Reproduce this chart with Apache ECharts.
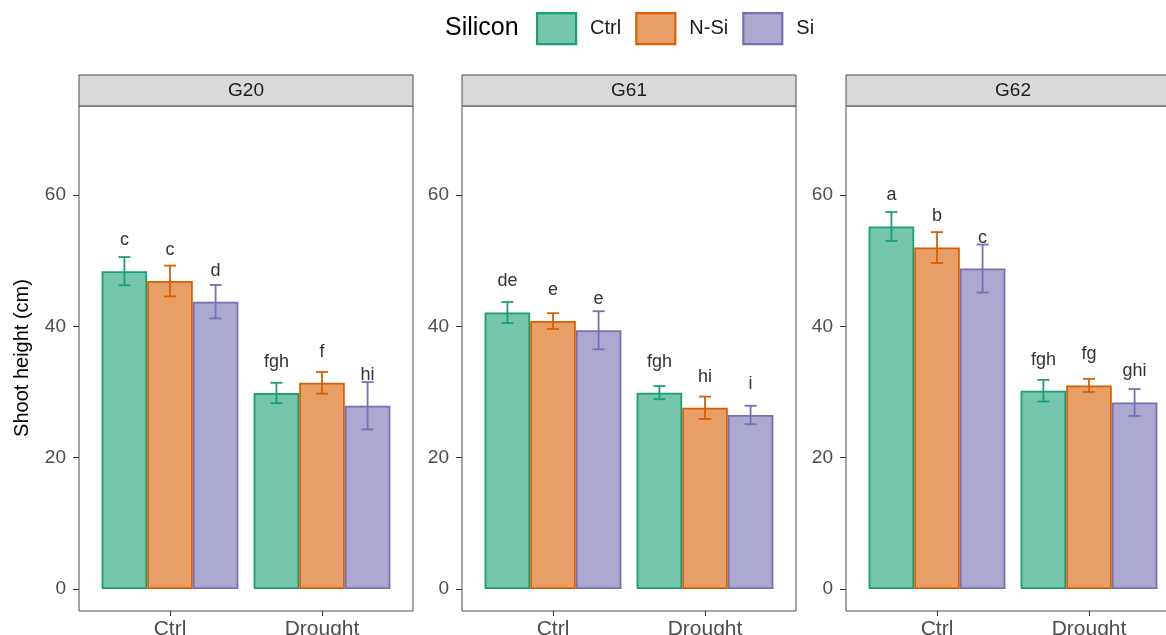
<!DOCTYPE html>
<html>
<head>
<meta charset="utf-8">
<script src="https://cdn.jsdelivr.net/npm/echarts@6/dist/echarts.min.js"></script>
<style>html,body{margin:0;padding:0;background:#fff}#c{width:1166px;height:635px}</style>
</head>
<body>
<div id="c"></div>
<script>
// ---- data ----
const genotypes = ['G20', 'G61', 'G62'];
const conditions = ['Ctrl', 'Drought'];
const silicon = ['Ctrl', 'N-Si', 'Si'];
const yTicks = [0, 20, 40, 60];

// means per genotype: [Ctrl condition, Drought condition]
const meanCtrl = [[48.4, 29.85], [42.1, 29.9], [55.2, 30.2]];
const meanNSi  = [[46.9, 31.4], [40.8, 27.6], [52.0, 31.0]];
const meanSi   = [[43.75, 27.9], [39.4, 26.5], [48.8, 28.4]];
// error (± sd) per genotype
const sdCtrl = [[2.15, 1.55], [1.6, 1.0], [2.2, 1.65]];
const sdNSi  = [[2.35, 1.65], [1.2, 1.7], [2.35, 1.0]];
const sdSi   = [[2.55, 3.6], [2.9, 1.4], [3.65, 2.05]];
// significance letters
const letCtrl = [['c', 'fgh'], ['de', 'fgh'], ['a', 'fgh']];
const letNSi  = [['c', 'f'], ['e', 'hi'], ['b', 'fg']];
const letSi   = [['d', 'hi'], ['e', 'i'], ['c', 'ghi']];

const means = [meanCtrl, meanNSi, meanSi];
const sds = [sdCtrl, sdNSi, sdSi];
const lets = [letCtrl, letNSi, letSi];

// ---- styles ----
const fills = ['#76C5AD', '#E89F67', '#ACA9D1'];
const strokes = ['#1B9E77', '#D95F02', '#7570B3'];
const FONT = "'Liberation Sans', Arial, sans-serif";
const yMin = -3.35, yMax = 73.55;

const panelLeft = [79, 462, 846];
const panelW = 334;
const panelTop = 106, panelBottom = 611;
const stripTop = 75;

const grid = [], xAxis = [], yAxis = [], series = [], graphic = [];

genotypes.forEach(function (g, p) {
  const L = panelLeft[p];
  // frame grid
  grid.push({left: L, top: panelTop, width: panelW, height: panelBottom - panelTop,
    show: true, borderColor: '#4d4d4d', borderWidth: 1, backgroundColor: 'transparent',
    outerBoundsMode: 'none'});
  // data grid
  grid.push({left: L + 15, top: panelTop, width: 304, height: panelBottom - panelTop,
    outerBoundsMode: 'none'});
  const fg = 2 * p, dg = 2 * p + 1;
  xAxis.push({gridIndex: fg, type: 'value', show: false, min: 0, max: 1});
  yAxis.push({gridIndex: fg, type: 'value', min: yMin, max: yMax,
    axisLine: {show: false}, splitLine: {show: false},
    axisTick: {show: true, length: 6, customValues: yTicks, lineStyle: {color: '#333', width: 1}},
    axisLabel: {show: true, customValues: yTicks, margin: 13, color: '#4d4d4d', fontSize: 19, fontFamily: FONT}});
  xAxis.push({gridIndex: dg, type: 'category', data: conditions,
    axisLine: {show: false, onZero: false}, splitLine: {show: false},
    axisTick: {show: true, alignWithLabel: true, length: 5, lineStyle: {color: '#333', width: 1}},
    axisLabel: {color: '#4d4d4d', fontSize: 21, fontFamily: FONT, margin: 8}});
  yAxis.push({gridIndex: dg, type: 'value', min: yMin, max: yMax, show: false, splitLine: {show: false}});

  silicon.forEach(function (s, k) {
    series.push({type: 'bar', name: s, xAxisIndex: dg, yAxisIndex: dg,
      data: means[k][p], barGap: '0%', barCategoryGap: '10%',
      itemStyle: {color: fills[k], borderColor: strokes[k], borderWidth: 1.8},
      emphasis: {disabled: true}, z: 2});
    const labels = lets[k][p];
    series.push({type: 'custom', name: s, xAxisIndex: dg, yAxisIndex: dg, z: 3,
      silent: true,
      data: conditions.map(function (c, i) { return [i, means[k][p][i], sds[k][p][i]]; }),
      renderItem: function (params, api) {
        const cat = api.value(0), m = api.value(1), sd = api.value(2);
        const band = api.size([1, 0])[0];
        const bw = band * 0.9 / 3;
        const cx = api.coord([cat, m])[0] + (k - 1) * bw;
        const yT = api.coord([cat, m + sd])[1];
        const yB = api.coord([cat, m - sd])[1];
        const yBar = api.coord([cat, m])[1];
        const st = {stroke: strokes[k], lineWidth: 1.8};
        return {type: 'group', children: [
          {type: 'line', shape: {x1: cx, y1: yT, x2: cx, y2: yB}, style: st},
          {type: 'line', shape: {x1: cx - 6, y1: yT, x2: cx + 6, y2: yT}, style: st},
          {type: 'line', shape: {x1: cx - 6, y1: yB, x2: cx + 6, y2: yB}, style: st},
          {type: 'text', x: cx, y: yBar - 31, style: {text: labels[params.dataIndex], fill: '#333',
            font: '18px ' + FONT, align: 'center', verticalAlign: 'middle'}}
        ]};
      }
    });
  });

  // strip
  graphic.push({type: 'rect', shape: {x: L, y: stripTop, width: panelW, height: panelTop - stripTop},
    style: {fill: '#D9D9D9', stroke: '#4d4d4d', lineWidth: 1}, z: 10});
  graphic.push({type: 'text', x: L + panelW / 2, y: (stripTop + panelTop) / 2,
    style: {text: g, fill: '#1a1a1a', font: '19px ' + FONT, align: 'center', verticalAlign: 'middle'}, z: 11});
});

graphic.push({type: 'text', x: 22, y: 358, rotation: Math.PI / 2,
  style: {text: 'Shoot height (cm)', fill: '#000', font: '20px ' + FONT, align: 'center', verticalAlign: 'middle'}});

const chart = echarts.init(document.getElementById('c'), null, {renderer: 'canvas'});
chart.setOption({
  animation: false,
  backgroundColor: '#fff',
  title: {text: 'Silicon', left: 445, top: 16, padding: 0,
    textStyle: {fontSize: 25, fontWeight: 'normal', color: '#000', fontFamily: FONT}},
  legend: {data: silicon, left: 536, top: 12, padding: 0, icon: 'rect',
    itemWidth: 39, itemHeight: 31, itemGap: 14, selectedMode: false,
    itemStyle: {borderWidth: 2.2},
    textStyle: {fontSize: 20, color: '#1a1a1a', fontFamily: FONT, padding: [0, 0, 0, 9]}},
  grid: grid, xAxis: xAxis, yAxis: yAxis, series: series, graphic: graphic
});
</script>
</body>
</html>
